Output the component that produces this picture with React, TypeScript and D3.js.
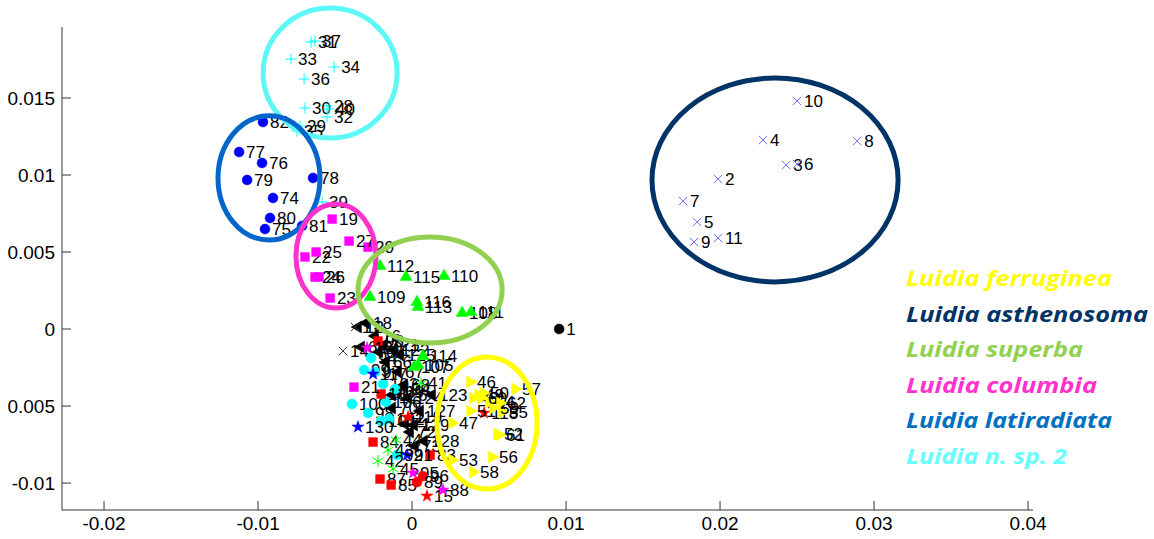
import React from 'react';
import * as d3 from 'd3';

// ---------- axis ticks ----------
const xTicks = [-0.02, -0.01, 0, 0.01, 0.02, 0.03, 0.04];
const xTickLabels = ['-0.02', '-0.01', '0', '0.01', '0.02', '0.03', '0.04'];
const yTicks = [-0.01, -0.005, 0, 0.005, 0.01, 0.015];
const yTickLabels = ['-0.01', '-0.005', '0', '0.005', '0.01', '0.015'];

// ---------- data: [specimen id, axis 1, axis 2] ----------
type Pt = [number, number, number];

const ferruginea: Pt[] = [
  [46, 0.00377, -0.00344], [47, 0.0026, -0.0061], [48, 0.00396, -0.00448],
  [49, 0.00429, -0.00429], [50, 0.00461, -0.00416], [51, 0.00377, -0.00532],
  [52, 0.00552, -0.00682], [53, 0.0026, -0.00851], [54, 0.005, -0.00474],
  [55, 0.00584, -0.00539], [56, 0.00519, -0.00831], [57, 0.00669, -0.0039],
  [58, 0.00396, -0.00929], [59, 0.00526, -0.00513], [60, 0.00448, -0.00448],
  [61, 0.00565, -0.00688], [62, 0.00571, -0.0048],
];
const asthenosoma: Pt[] = [
  [2, 0.01987, 0.00974], [3, 0.02429, 0.01065], [4, 0.02279, 0.01227],
  [5, 0.01851, 0.00695], [6, 0.025, 0.01071], [7, 0.0176, 0.00831],
  [8, 0.0289, 0.01221], [9, 0.01831, 0.00565], [10, 0.025, 0.01481],
  [11, 0.01987, 0.00591],
];
const superba: Pt[] = [
  [105, 0.00039, -0.00234], [107, 0.00013, -0.00247], [108, 0.00325, 0.00104],
  [109, -0.00273, 0.00208], [110, 0.00208, 0.00344], [111, 0.00383, 0.0011],
  [112, -0.00208, 0.00409], [113, 0.00039, 0.00143], [114, 0.00071, -0.00175],
  [115, -0.00039, 0.00338], [116, 0.00032, 0.00175],
];
const columbia: Pt[] = [
  [19, -0.00519, 0.00714], [20, -0.00286, 0.00532], [21, -0.00377, -0.00377],
  [22, -0.00695, 0.00468], [23, -0.00532, 0.00201], [24, -0.0063, 0.00338],
  [25, -0.00623, 0.005], [26, -0.00604, 0.00338], [27, -0.00409, 0.00571],
];
const latiradiata: Pt[] = [
  [74, -0.00903, 0.00851], [75, -0.00955, 0.00649], [76, -0.00974, 0.01078],
  [77, -0.01123, 0.01149], [78, -0.00643, 0.00981], [79, -0.01071, 0.00968],
  [80, -0.00922, 0.00721], [81, -0.00714, 0.00669], [82, -0.00968, 0.01344],
];
const nsp2: Pt[] = [
  [28, -0.00552, 0.01448], [29, -0.00727, 0.01318], [30, -0.00695, 0.01435],
  [31, -0.00656, 0.01864], [32, -0.00552, 0.01377], [33, -0.00786, 0.01753],
  [34, -0.00506, 0.01701], [35, -0.00747, 0.01286], [36, -0.00701, 0.01623],
  [37, -0.0063, 0.0187], [39, -0.00584, 0.00825], [40, -0.00539, 0.01429],
];
const outgroup: Pt[] = [[1, 0.00955, 0]];
const blackTriangles: Pt[] = [
  [12, -0.00351, 0.00013], [18, -0.00299, 0.00039], [16, -0.0024, -0.00045],
  [64, -0.00331, -0.00117], [65, -0.00214, -0.00149], [66, -0.00169, -0.00214],
  [67, -0.00091, -0.00279], [68, -0.00052, -0.00364], [69, -0.00091, -0.00409],
  [70, -0.0013, -0.00513], [71, -0.00045, -0.00617], [72, -0.00013, -0.00669],
  [73, 0.00019, -0.0076], [121, -0.00182, -0.00104], [122, -0.00117, -0.00136],
  [123, 0.0013, -0.00429], [124, -0.00026, -0.00448], [125, -0.00078, -0.00169],
  [126, -0.0013, -0.00429], [127, 0.00052, -0.00532], [128, 0.00078, -0.00727],
  [129, 0.00013, -0.00623],
];
const blackCrosses: Pt[] = [[14, -0.00448, -0.00143], [17, -0.0037, 0.00013]];
const redSquares: Pt[] = [
  [93, -0.00221, -0.00078], [13, -0.00201, -0.00422], [84, -0.00253, -0.00734],
  [87, -0.00208, -0.00974], [85, -0.00136, -0.01013], [83, 0.00117, -0.00818],
];
const cyanCircles: Pt[] = [
  [99, -0.00312, -0.00266], [100, -0.0039, -0.00487], [98, -0.00286, -0.00545],
  [97, -0.0024, -0.00279], [101, -0.00201, -0.00597], [102, -0.00149, -0.00584],
  [103, -0.00188, -0.00357], [104, -0.0011, -0.0039], [106, -0.00169, -0.00474],
  [92, -0.00097, -0.00818], [94, -0.00266, -0.00188],
];
const blueStars: Pt[] = [[130, -0.00351, -0.00636], [91, -0.00032, -0.00818], [117, -0.00253, -0.00292]];
const greenAsterisks: Pt[] = [
  [42, -0.00221, -0.00857], [43, -0.00156, -0.00786], [45, -0.00123, -0.00909],
  [44, -0.00104, -0.00721], [41, 0.00058, -0.00351],
];
const redStars: Pt[] = [[15, 0.00097, -0.01084], [118, 0.00468, -0.00545], [119, -0.00026, -0.00571]];
const magentaStars: Pt[] = [[88, 0.00201, -0.01045], [95, 0.00006, -0.00935], [120, -0.00292, -0.00123]];
const redCircles: Pt[] = [[96, 0.00071, -0.00955], [89, 0.00032, -0.00994]];

// ---------- group outlines: [cx, cy, rx, ry] in data units ----------
const ellipseFerruginea = [0.00487, -0.0061, 0.00325, 0.00429];
const ellipseAsthenosoma = [0.02357, 0.00968, 0.00799, 0.00662];
const ellipseSuperba = [0.00117, 0.00253, 0.00468, 0.00344];
const ellipseColumbia = [-0.00494, 0.00474, 0.0026, 0.00338];
const ellipseLatiradiata = [-0.00929, 0.00981, 0.00331, 0.00403];
const ellipseNsp2 = [-0.00532, 0.01662, 0.00435, 0.00422];

const legendNames = [
  'Luidia ferruginea', 'Luidia asthenosoma', 'Luidia superba',
  'Luidia columbia', 'Luidia latiradiata', 'Luidia n. sp. 2',
];

// ---------- styles ----------
const C = {
  yellow: '#FFFF00', navy: '#003366', lime: '#92D050', pink: '#FF33CC',
  blue: '#0066CC', aqua: '#5CF8F8',
};
const legendColors = ['#FFFF00', '#003366', '#92D050', '#FF33CC', '#0070C0', '#66FFFF'];
const legendWidths = [206, 242, 177, 191, 206, 161];

const series = [
  { pts: blackTriangles, marker: '<', color: '#000000' },
  { pts: blackCrosses, marker: 'x', color: '#333333' },
  { pts: cyanCircles, marker: 'o', color: '#00FFFF' },
  { pts: redSquares, marker: 's', color: '#FF0000' },
  { pts: blueStars, marker: 'p', color: '#0000FF' },
  { pts: greenAsterisks, marker: '*', color: '#00FF00' },
  { pts: redStars, marker: 'p', color: '#FF0000' },
  { pts: magentaStars, marker: 'p', color: '#FF00FF' },
  { pts: redCircles, marker: 'o', color: '#FF0000' },
  { pts: superba, marker: '^', color: '#00FF00' },
  { pts: columbia, marker: 's', color: '#FF00FF' },
  { pts: ferruginea, marker: '>', color: '#FFFF00' },
  { pts: latiradiata, marker: 'o', color: '#0000FF' },
  { pts: nsp2, marker: '+', color: '#00FFFF' },
  { pts: asthenosoma, marker: 'x', color: '#6F6FFF' },
  { pts: outgroup, marker: 'o', color: '#000000' },
];

const outlines = [
  { e: ellipseNsp2, color: C.aqua },
  { e: ellipseLatiradiata, color: C.blue },
  { e: ellipseColumbia, color: C.pink },
  { e: ellipseSuperba, color: C.lime },
  { e: ellipseFerruginea, color: C.yellow },
  { e: ellipseAsthenosoma, color: C.navy },
];

const xScale = d3.scaleLinear().domain([-0.02273, 0.04032]).range([62, 1033]);
const yScale = d3.scaleLinear().domain([-0.01175, 0.01961]).range([510, 27]);

function marker(type: string): { d: string; rot: number; stroke: boolean } {
  const sym = d3.symbol();
  switch (type) {
    case 'o': return { d: sym.type(d3.symbolCircle).size(78)()!, rot: 0, stroke: false };
    case 's': return { d: sym.type(d3.symbolSquare).size(78)()!, rot: 0, stroke: false };
    case '^': return { d: sym.type(d3.symbolTriangle).size(62)()!, rot: 0, stroke: false };
    case '>': return { d: sym.type(d3.symbolTriangle).size(62)()!, rot: 90, stroke: false };
    case '<': return { d: sym.type(d3.symbolTriangle).size(62)()!, rot: -90, stroke: false };
    case 'p': return { d: sym.type(d3.symbolStar).size(46)()!, rot: 0, stroke: false };
    case '+': return { d: sym.type(d3.symbolPlus).size(42)()!, rot: 0, stroke: true };
    case 'x': return { d: sym.type(d3.symbolTimes).size(48)()!, rot: 0, stroke: true };
    case '*': return { d: sym.type(d3.symbolAsterisk).size(100)()!, rot: 0, stroke: true };
  }
  return { d: '', rot: 0, stroke: false };
}

const FONT = '"Liberation Sans", Arial, sans-serif';

export default function App() {
  return (
    <svg
      width={1154}
      height={539}
      style={{ position: 'absolute', left: 0, top: 0, display: 'block' }}
    >
      <defs>
        {/* the reference image is cropped 8px from its left edge */}
        <clipPath id="crop">
          <rect x={8} y={0} width={1146} height={539} />
        </clipPath>
      </defs>
      <rect x={0} y={0} width={1154} height={539} fill="#ffffff" />
      <g clipPath="url(#crop)">
        {/* axes */}
        <line x1={62} x2={62} y1={yScale.range()[1]} y2={yScale.range()[0]} stroke="#333" strokeWidth={1} />
        <line x1={xScale.range()[0]} x2={xScale.range()[1]} y1={510} y2={510} stroke="#333" strokeWidth={1} />
        {yTicks.map((t, i) => (
          <g key={'y' + i}>
            <line x1={62} x2={71} y1={yScale(t)} y2={yScale(t)} stroke="#333" />
            <text x={55} y={yScale(t)} dy="0.35em" textAnchor="end" fontFamily={FONT} fontSize={19} fill="#000">
              {yTickLabels[i]}
            </text>
          </g>
        ))}
        {xTicks.map((t, i) => (
          <g key={'x' + i}>
            <line x1={xScale(t)} x2={xScale(t)} y1={510} y2={501} stroke="#333" />
            <text x={xScale(t)} y={530} textAnchor="middle" fontFamily={FONT} fontSize={19} fill="#000">
              {xTickLabels[i]}
            </text>
          </g>
        ))}
        {/* points + labels */}
        {series.map((s, si) => {
          const m = marker(s.marker);
          return (
            <g key={'s' + si}>
              {s.pts.map((p) => (
                <g key={p[0]}>
                  <path
                    d={m.d}
                    transform={`translate(${xScale(p[1])},${yScale(p[2])}) rotate(${m.rot})`}
                    fill={m.stroke ? 'none' : s.color}
                    stroke={s.color}
                    strokeWidth={m.stroke ? 1 : 0.5}
                  />
                  <text x={xScale(p[1]) + 7} y={yScale(p[2])} dy="0.35em" fontFamily={FONT} fontSize={17} fill="#000">
                    {p[0]}
                  </text>
                </g>
              ))}
            </g>
          );
        })}
        {/* group outlines */}
        {outlines.map((o, i) => (
          <ellipse
            key={'e' + i}
            cx={xScale(o.e[0])}
            cy={yScale(o.e[1])}
            rx={xScale(o.e[0] + o.e[2]) - xScale(o.e[0])}
            ry={yScale(o.e[1] - o.e[3]) - yScale(o.e[1])}
            fill="none"
            stroke={o.color}
            strokeWidth={5}
          />
        ))}
        {/* legend */}
        {legendNames.map((n, i) => (
          <text
            key={'l' + i}
            x={906}
            y={286 + i * 35.5}
            fontFamily='"Open Sans", Lato, sans-serif'
            fontWeight={700}
            fontStyle="italic"
            fontSize={22}
            fill={legendColors[i]}
            textLength={legendWidths[i]}
            lengthAdjust="spacingAndGlyphs"
          >
            {n}
          </text>
        ))}
      </g>
    </svg>
  );
}
